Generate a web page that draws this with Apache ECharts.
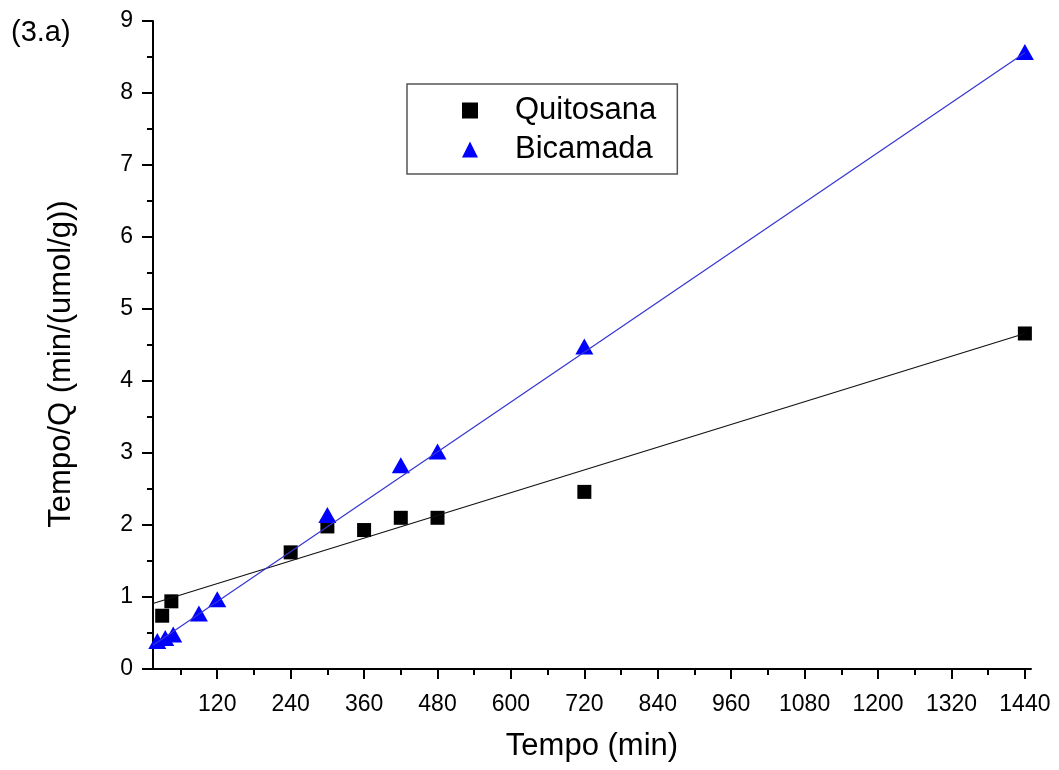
<!DOCTYPE html>
<html>
<head>
<meta charset="utf-8">
<script src="https://cdn.jsdelivr.net/npm/echarts@6/dist/echarts.min.js"></script>
<style>
html,body{margin:0;padding:0;background:#fff;}
#chart{width:1059px;height:770px;}
</style>
</head>
<body>
<div id="chart"></div>
<script>
// ---- data ----
const quitosanaX = [30, 45, 240, 300, 360, 420, 480, 720, 1440];
const quitosanaY = [0.74, 0.94, 1.62, 1.98, 1.93, 2.10, 2.10, 2.46, 4.66];
const bicamadaX = [22, 35, 48, 90, 120, 300, 420, 480, 720, 1440];
const bicamadaY = [0.39, 0.43, 0.48, 0.77, 0.97, 2.14, 2.83, 3.02, 4.48, 8.57];
// linear fit lines (end points)
const fitQuitosanaX = [15, 1440];
const fitQuitosanaY = [0.91, 4.66];
const fitBicamadaX = [15, 1440];
const fitBicamadaY = [0.33, 8.56];
const xMajorTicks = [120, 240, 360, 480, 600, 720, 840, 960, 1080, 1200, 1320, 1440];
const xMinorTicks = [60, 180, 300, 420, 540, 660, 780, 900, 1020, 1140, 1260, 1380];
const xMin = 15, xMax = 1450;
const yMin = 0, yMax = 9, yStep = 1;

const pairs = (xs, ys) => xs.map((x, i) => [x, ys[i]]);
const FONT = '"Liberation Sans", Arial, sans-serif';

const chart = echarts.init(document.getElementById('chart'), null, {renderer: 'canvas'});
chart.setOption({
  backgroundColor: '#ffffff',
  animation: false,
  textStyle: {fontFamily: FONT, color: '#000'},
  grid: {left: 153, right: 28, top: 21, bottom: 101, containLabel: false},
  graphic: [{
    type: 'text', left: 11, top: 18,
    style: {text: '(3.a)', font: '29px ' + FONT, fill: '#000'}
  }],
  legend: {
    orient: 'vertical',
    left: 407, top: 84,
    padding: [11, 21, 9, 55],
    itemGap: 8,
    itemWidth: 16, itemHeight: 16,
    borderColor: '#555', borderWidth: 1.5,
    backgroundColor: '#fff',
    textStyle: {fontFamily: FONT, fontSize: 31, color: '#000', padding: [0, 0, 0, 32]},
    data: ['Quitosana', 'Bicamada']
  },
  xAxis: [{
    type: 'value', min: xMin, max: xMax, position: 'bottom',
    name: 'Tempo (min)', nameLocation: 'middle', nameGap: 62,
    nameTextStyle: {fontFamily: FONT, fontSize: 31, color: '#000'},
    axisLine: {show: true, onZero: false, lineStyle: {color: '#000', width: 2}},
    axisTick: {show: true, length: 10, lineStyle: {color: '#000', width: 2}, customValues: xMajorTicks},
    axisLabel: {show: true, fontSize: 23, color: '#000', margin: 24, customValues: xMajorTicks,
      formatter: v => String(v)},
    splitLine: {show: false}
  }, {
    type: 'value', min: xMin, max: xMax, position: 'bottom',
    axisLine: {show: false},
    axisTick: {show: true, length: 6, lineStyle: {color: '#000', width: 2}, customValues: xMinorTicks},
    axisLabel: {show: false},
    splitLine: {show: false}
  }],
  yAxis: [{
    type: 'value', min: yMin, max: yMax, interval: yStep,
    name: 'Tempo/Q (min/(umol/g))', nameLocation: 'middle', nameGap: 76, nameRotate: 90,
    nameTextStyle: {fontFamily: FONT, fontSize: 31, color: '#000', padding: [0, 38, 0, 0]},
    axisLine: {show: true, onZero: false, lineStyle: {color: '#000', width: 2}},
    axisTick: {show: true, length: 11, lineStyle: {color: '#000', width: 2}},
    minorTick: {show: true, splitNumber: 2, length: 6, lineStyle: {color: '#000', width: 2}},
    axisLabel: {fontSize: 23, color: '#000', margin: 20},
    splitLine: {show: false}
  }],
  series: [{
    name: 'Quitosana', type: 'scatter', xAxisIndex: 0,
    symbol: 'rect', symbolSize: 14,
    itemStyle: {color: '#000', opacity: 1},
    data: pairs(quitosanaX, quitosanaY), z: 2
  }, {
    name: 'Bicamada', type: 'scatter', xAxisIndex: 0,
    symbol: 'triangle', symbolSize: [18, 16],
    itemStyle: {color: '#0000ff', opacity: 1},
    data: pairs(bicamadaX, bicamadaY), z: 3
  }, {
    name: 'fitQ', type: 'line', xAxisIndex: 0, showSymbol: false, symbol: 'none',
    lineStyle: {color: '#111', width: 1.2},
    data: pairs(fitQuitosanaX, fitQuitosanaY), z: 4, silent: true
  }, {
    name: 'fitB', type: 'line', xAxisIndex: 0, showSymbol: false, symbol: 'none',
    lineStyle: {color: '#3535d0', width: 1.2},
    data: pairs(fitBicamadaX, fitBicamadaY), z: 4, silent: true
  }]
});
</script>
</body>
</html>
